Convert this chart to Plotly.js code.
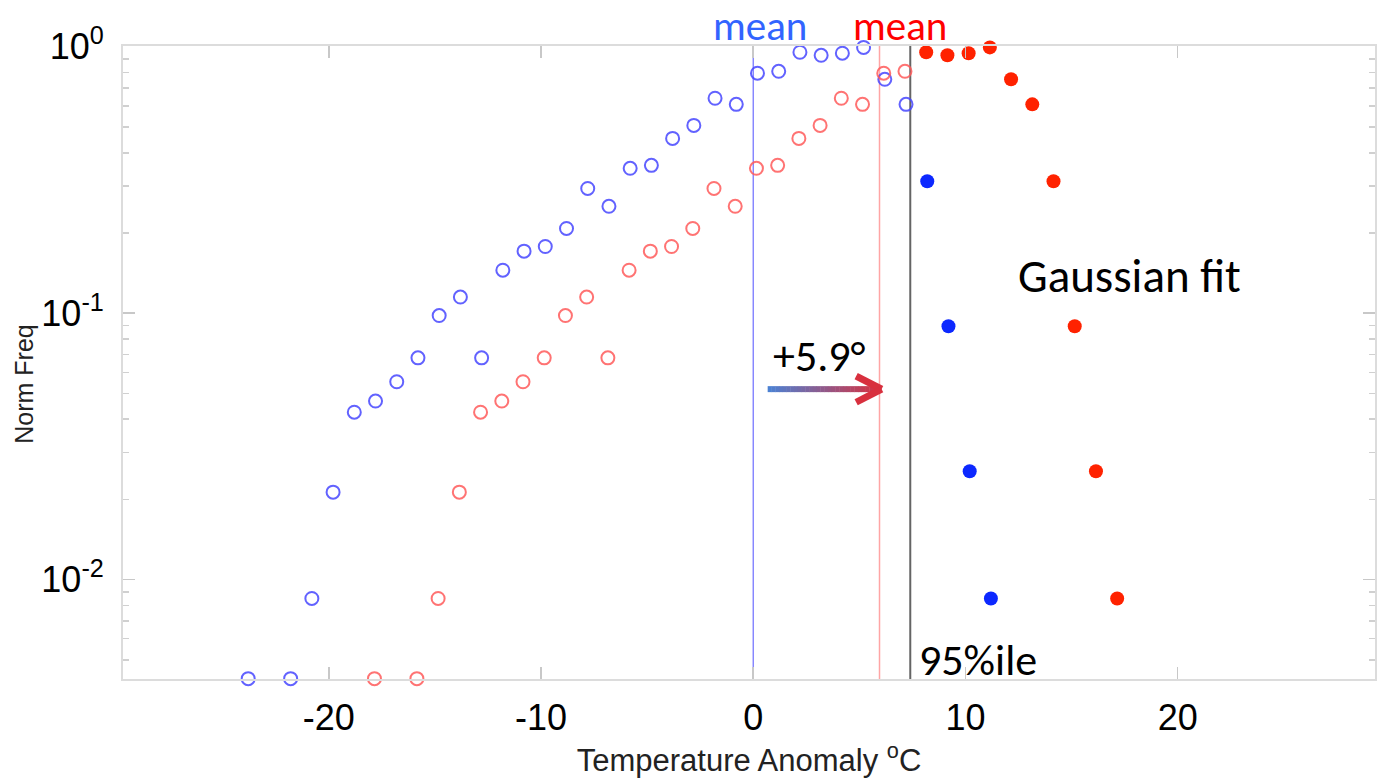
<!DOCTYPE html>
<html>
<head>
<meta charset="utf-8">
<script src="https://cdn.plot.ly/plotly-3.0.1.min.js"></script>
<style>
html,body{margin:0;padding:0;background:#fff;}
#chart{width:1382px;height:778px;}
</style>
</head>
<body>
<div id="chart"></div>
<script>
// ---- data ----
const blueOpenX = [-23.8,-21.8,-20.8,-19.8,-18.8,-17.8,-16.8,-15.8,-14.8,-13.8,-12.8,-11.8,-10.8,-9.8,-8.8,-7.8,-6.8,-5.8,-4.8,-3.8,-2.8,-1.8,-0.8,0.2,1.2,2.2,3.2,4.2,5.2,6.2,7.2];
const blueOpenY = [0.00425,0.00425,0.0085,0.0213,0.0425,0.0468,0.0553,0.068,0.098,0.115,0.068,0.145,0.171,0.178,0.208,0.294,0.252,0.35,0.359,0.453,0.507,0.641,0.608,0.796,0.809,0.954,0.929,0.946,0.995,0.755,0.608];
const blueFillX = [8.2,9.2,10.2,11.2];
const blueFillY = [0.313,0.0894,0.0255,0.0085];

const redOpenX = [-17.85,-15.85,-14.85,-13.85,-12.85,-11.85,-10.85,-9.85,-8.85,-7.85,-6.85,-5.85,-4.85,-3.85,-2.85,-1.85,-0.85,0.15,1.15,2.15,3.15,4.15,5.15,6.15,7.15];
const redOpenY = [0.00425,0.00425,0.0085,0.0213,0.0425,0.0468,0.0553,0.068,0.098,0.115,0.068,0.145,0.171,0.178,0.208,0.294,0.252,0.35,0.359,0.453,0.507,0.641,0.608,0.796,0.809];
const redFillX = [8.15,9.15,10.15,11.15,12.15,13.15,14.15,15.15,16.15,17.15];
const redFillY = [0.954,0.929,0.946,0.995,0.755,0.608,0.313,0.0894,0.0255,0.0085];

const meanBlue = 0;
const meanRed = 5.95;
const pct95 = 7.4;
const shift = 5.9;

const xTickVals = [-20,-10,0,10,20];
const xTickText = ["-20","-10","0","10","20"];
const yTickVals = [0.01,0.1,1];
const yTickText = ["10<sup>-2</sup>","10<sup>-1</sup>","10<sup>0</sup>"];
const yMinorVals = [0.005,0.006,0.007,0.008,0.009,0.02,0.03,0.04,0.05,0.06,0.07,0.08,0.09,0.2,0.3,0.4,0.5,0.6,0.7,0.8,0.9];

// ---- traces ----
const openMarker = (c) => ({symbol:'circle-open', size:13, color:c, line:{width:2, color:c}});
const fillMarker = (c) => ({symbol:'circle', size:14, color:c, line:{width:0}});

const traces = [
  {x:blueOpenX, y:blueOpenY, type:'scatter', mode:'markers', marker:openMarker('rgba(70,70,255,0.85)'), cliponaxis:false, hoverinfo:'x+y'},
  {x:redOpenX, y:redOpenY, type:'scatter', mode:'markers', marker:openMarker('rgba(255,90,90,0.85)'), cliponaxis:false, hoverinfo:'x+y'},
  {x:blueFillX, y:blueFillY, type:'scatter', mode:'markers', marker:fillMarker('rgb(12,40,255)'), cliponaxis:false, hoverinfo:'x+y'},
  {x:redFillX, y:redFillY, type:'scatter', mode:'markers', marker:fillMarker('rgb(255,34,0)'), cliponaxis:false, hoverinfo:'x+y'}
];

// ---- shapes: vertical reference lines ----
const shapes = [
  {type:'line', xref:'x', yref:'paper', x0:meanBlue, x1:meanBlue, y0:0, y1:1, line:{color:'rgb(120,120,255)', width:1.3}, layer:'below'},
  {type:'line', xref:'x', yref:'paper', x0:meanRed, x1:meanRed, y0:0, y1:1, line:{color:'rgb(255,165,165)', width:1.5}, layer:'below'},
  {type:'line', xref:'x', yref:'paper', x0:pct95, x1:pct95, y0:0, y1:1, line:{color:'rgb(100,100,100)', width:2}, layer:'below'}
];

// gradient arrow shaft (from blue mean towards red mean); y given as a data value
const arrowY = Math.pow(10, -1.285);
const headDy = 1.12;  // multiplicative offset for chevron arms
const ax0 = meanBlue + 0.68, ax1 = meanBlue + shift + 0.1;
const nSeg = 30;
const c0 = [74,130,212], c1 = [216,48,62];
for (let i = 0; i < nSeg; i++) {
  const t0 = i / nSeg, t1 = (i + 1) / nSeg, tm = (t0 + t1) / 2;
  const c = c0.map((v, k) => Math.round(v + (c1[k] - v) * tm));
  shapes.push({type:'line', xref:'x', yref:'y', x0:ax0 + (ax1 - ax0) * t0, x1:ax0 + (ax1 - ax0) * t1 + 0.02,
    y0:arrowY, y1:arrowY, line:{color:`rgb(${c.join(',')})`, width:6}});
}
const headX = ax1 + 0.05;
shapes.push({type:'line', xref:'x', yref:'y', x0:headX - 1.2, y0:arrowY * headDy, x1:headX, y1:arrowY, line:{color:'rgb(216,48,62)', width:7}});
shapes.push({type:'line', xref:'x', yref:'y', x0:headX - 1.2, y0:arrowY / headDy, x1:headX, y1:arrowY, line:{color:'rgb(216,48,62)', width:7}});

const annFont = 'Carlito, Lato, "Noto Sans", sans-serif';
const topY = 1 + 46 / 632;   // top edge of the figure in paper units
const annotations = [
  {text:'mean', xref:'x', yref:'paper', x:0.31, y:topY, yanchor:'top', xanchor:'center', borderpad:0, showarrow:false, font:{family:annFont, size:41, color:'rgb(50,100,255)'}},
  {text:'mean', xref:'x', yref:'paper', x:6.9, y:topY, yanchor:'top', xanchor:'center', borderpad:0, showarrow:false, font:{family:annFont, size:41, color:'rgb(255,0,0)'}},
  {text:'+5.9°', xref:'x', yref:'y', x:0.85, y:-1.16, xanchor:'left', yanchor:'middle', showarrow:false, font:{family:annFont, size:44, color:'#000'}},
  {text:'Gaussian fit', xref:'x', yref:'y', x:12.4, y:-0.86, xanchor:'left', yanchor:'middle', showarrow:false, font:{family:annFont, size:47, color:'#000'}},
  {text:'95%ile', xref:'x', yref:'y', x:7.7, y:-2.30, xanchor:'left', yanchor:'middle', showarrow:false, font:{family:annFont, size:44, color:'#000'}},
  {text:'Norm Freq', xref:'paper', yref:'paper', x:-0.079, y:0.465, xanchor:'center', yanchor:'middle', textangle:-90, showarrow:false, font:{family:'"Liberation Sans", Arial, sans-serif', size:25, color:'#222'}}
];

const axFont = '"Liberation Sans Narrow", "Liberation Sans", Arial, sans-serif';
const layout = {
  width:1382, height:778,
  margin:{l:123, r:7, t:46, b:99},
  paper_bgcolor:'#fff', plot_bgcolor:'#fff',
  showlegend:false,
  xaxis:{
    range:[-29.7, 29.3], showgrid:false, zeroline:false,
    tickvals:xTickVals, ticktext:xTickText,
    ticks:'inside', ticklen:12, tickwidth:1.5, tickcolor:'#c8c8c8',
    showline:true, linecolor:'#dcdcdc', linewidth:2, mirror:'allticks',
    tickfont:{family:axFont, size:36, color:'#000'},
    ticklabelstandoff:6,
    title:{text:'Temperature Anomaly <sup>o</sup>C', font:{family:axFont, size:31, color:'#222'}, standoff:4}
  },
  yaxis:{
    type:'log', range:[-2.373, 0.003], showgrid:false, zeroline:false,
    tickvals:yTickVals, ticktext:yTickText,
    ticks:'inside', ticklen:12, tickwidth:1.5, tickcolor:'#c8c8c8',
    minor:{tickvals:yMinorVals, ticks:'inside', ticklen:6, tickwidth:1.5, tickcolor:'#d0d0d0', showgrid:false},
    showline:true, linecolor:'#dcdcdc', linewidth:2, mirror:'allticks',
    tickfont:{family:'"Liberation Sans", Arial, sans-serif', size:36, color:'#000'},
    ticklabelstandoff:10
  },
  shapes:shapes,
  annotations:annotations
};

Plotly.newPlot('chart', traces, layout, {displayModeBar:false, staticPlot:true});
</script>
</body>
</html>
